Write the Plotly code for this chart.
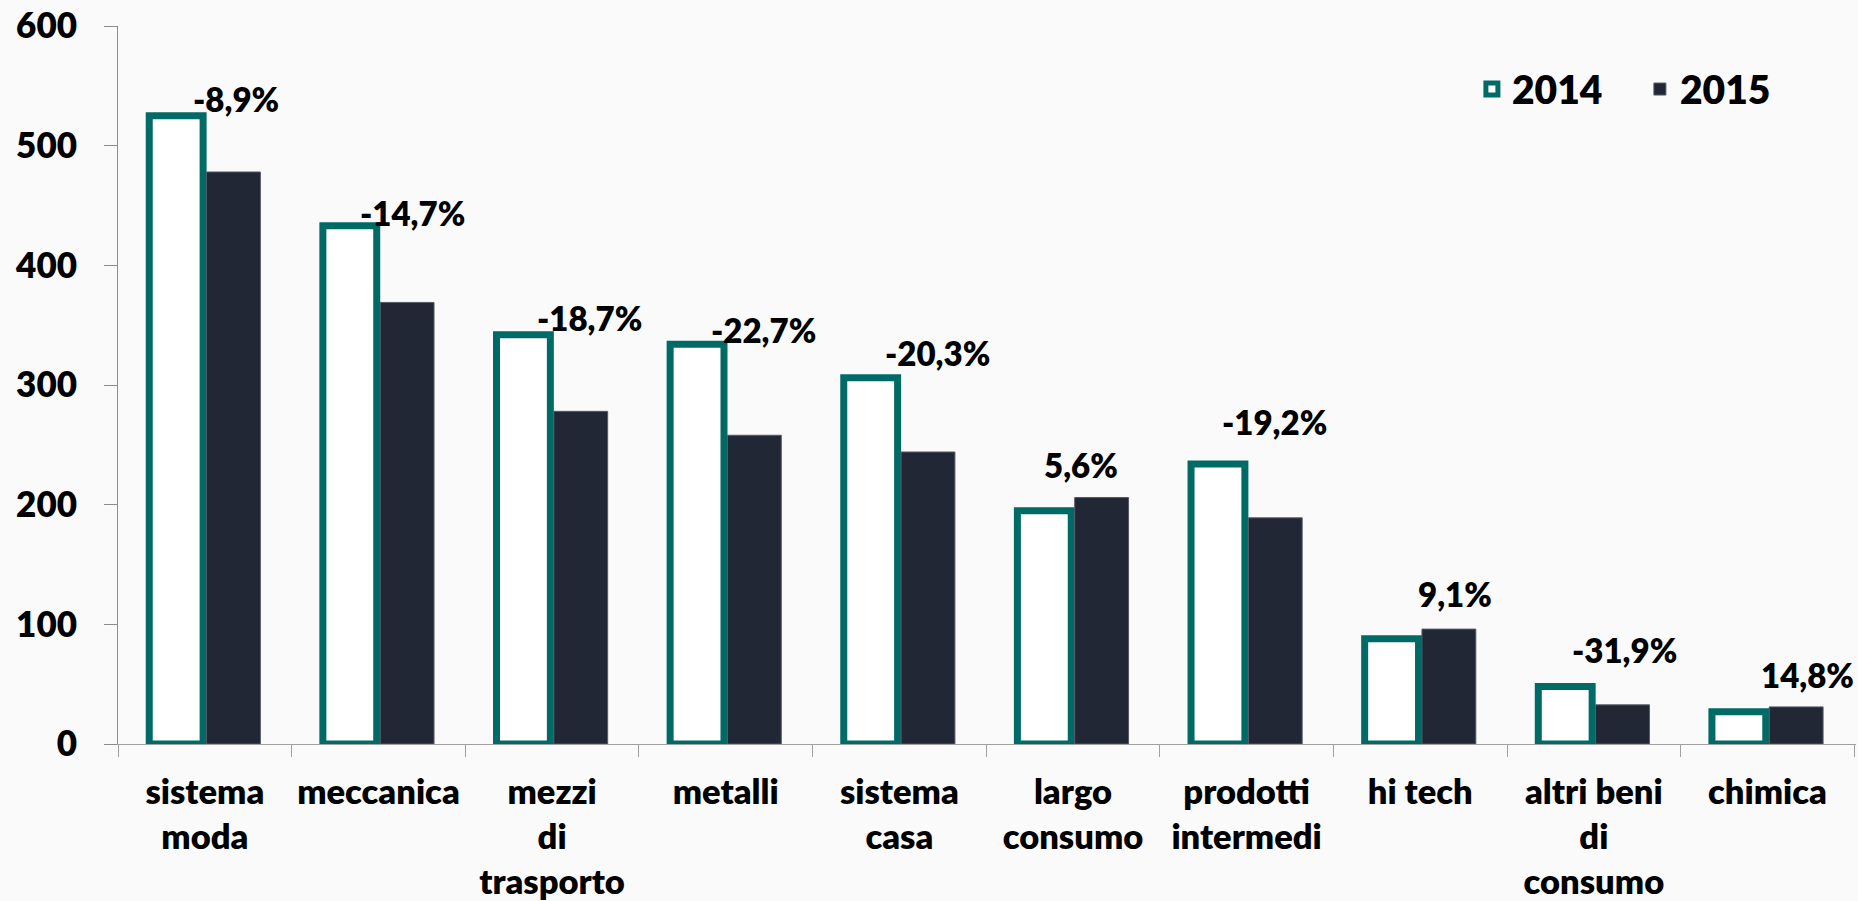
import plotly.graph_objects as go

categories = ["sistema<br>moda", "meccanica", "mezzi<br>di<br>trasporto", "metalli",
              "sistema<br>casa", "largo<br>consumo", "prodotti<br>intermedi", "hi tech",
              "altri beni<br>di<br>consumo", "chimica"]
values_2014 = [525, 433, 342, 334, 306, 195, 234, 88, 48, 27]
values_2015 = [478, 369, 278, 258, 244, 206, 189, 96, 32.7, 31]
pct_labels = ["-8,9%", "-14,7%", "-18,7%", "-22,7%", "-20,3%", "5,6%", "-19,2%",
              "9,1%", "-31,9%", "14,8%"]

# label styling offsets (pixels)
label_xshift = [31, 34, 37, 38, 38, 8, 28, 35, 31, 40]
label_yshift = [17, 13, 17, 14, 25, 32, 42, 35, 37, 32]

TEAL = "#006B66"
NAVY = "#212734"
BG = "#FAFAFA"
FONT = "Lato"
W = 800

fig = go.Figure()
fig.add_trace(go.Bar(
    name="2014", x=categories, y=values_2014,
    marker=dict(color="white", line=dict(color=TEAL, width=7)),
))
fig.add_trace(go.Bar(
    name="2015", x=categories, y=values_2015,
    marker=dict(color=NAVY, line=dict(color="#555a66", width=1)),
))

for i, cat in enumerate(categories):
    fig.add_annotation(
        x=cat, y=max(values_2014[i], values_2015[i]), text=pct_labels[i],
        showarrow=False, xanchor="center", yanchor="middle",
        xshift=label_xshift[i], yshift=label_yshift[i],
        font=dict(family=FONT, size=33, color="black", weight=W),
    )

fig.update_layout(
    width=1858, height=901,
    margin=dict(l=118, r=2, t=26, b=157, autoexpand=False),
    paper_bgcolor=BG, plot_bgcolor=BG,
    barmode="group", bargap=0.34, bargroupgap=0.06,
    font=dict(family=FONT, size=33, color="black", weight=W),
    showlegend=True,
    legend=dict(orientation="h", x=0.779, y=0.912, xanchor="left", yanchor="middle",
                bgcolor="rgba(0,0,0,0)", font=dict(family=FONT, size=39, weight=W),
                itemwidth=30, tracegroupgap=0, entrywidth=123, entrywidthmode="pixels"),
)
fig.update_yaxes(range=[0, 600], tickvals=[0, 100, 200, 300, 400, 500, 600],
                 showgrid=False, zeroline=False, showline=True, linecolor="#8c8c8c",
                 linewidth=1, ticks="outside", ticklen=13, tickcolor="#8c8c8c",
                 tickfont=dict(family=FONT, size=35, weight=W), ticklabelstandoff=20,
                 ticklabeloverflow="allow")
fig.update_xaxes(showgrid=False, showline=True, linecolor="#a0a0a0", linewidth=1,
                 ticks="outside", tickson="boundaries", ticklen=12, tickcolor="#a0a0a0",
                 tickfont=dict(family=FONT, size=34.5, weight=W), ticklabelstandoff=18)

fig.write_html("out.html", config={"displayModeBar": False},
               post_script="document.body.style.margin='0';")
